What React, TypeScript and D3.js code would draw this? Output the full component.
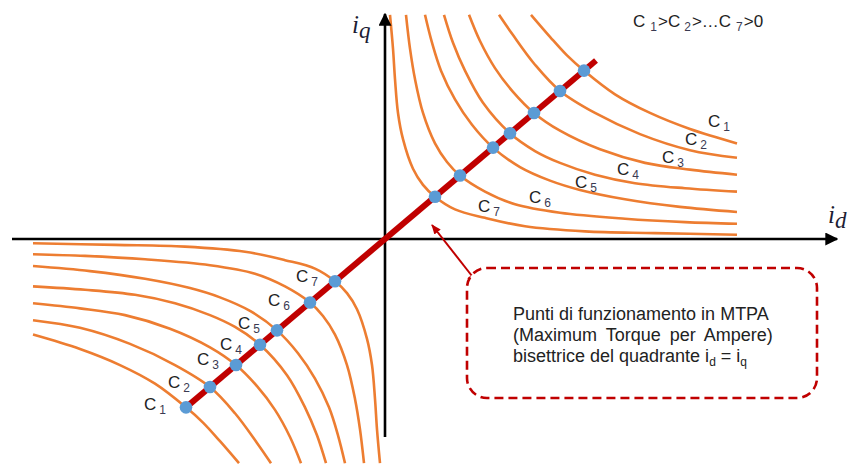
import React from 'react';
import * as d3 from 'd3';

const W = 848;
const H = 464;

// Constant-torque curve names and their MTPA operating points (id = iq)
const curveNames = ['1', '2', '3', '4', '5', '6', '7'];
const mtpaPoints = [1.99, 1.75, 1.49, 1.25, 1.08, 0.75, 0.5];

// Constant-torque curves in the first quadrant, as (id, iq) pairs
const curveC1 = [[1.46, 2.65], [1.65, 2.39], [1.82, 2.17], [1.99, 1.99], [2.3, 1.71], [2.65, 1.49], [3.05, 1.3], [3.52, 1.13]];
const curveC2 = [[1.14, 2.65], [1.28, 2.41], [1.5, 2.06], [1.75, 1.75], [2.1, 1.49], [2.55, 1.24], [3.05, 1.05], [3.52, 0.96]];
const curveC3 = [[0.84, 2.65], [0.95, 2.34], [1.1, 2.02], [1.28, 1.74], [1.49, 1.49], [1.75, 1.28], [2.15, 1.06], [2.6, 0.9], [3.05, 0.82], [3.52, 0.76]];
const curveC4 = [[0.59, 2.65], [0.68, 2.32], [0.8, 1.99], [0.98, 1.61], [1.25, 1.25], [1.5, 1.04], [1.75, 0.9], [2.1, 0.76], [2.5, 0.66], [3.0, 0.6], [3.52, 0.56]];
const curveC5 = [[0.4, 2.65], [0.47, 2.32], [0.56, 1.99], [0.7, 1.65], [0.87, 1.35], [1.08, 1.08], [1.35, 0.85], [1.65, 0.69], [1.95, 0.58], [2.4, 0.47], [2.95, 0.38], [3.52, 0.32]];
const curveC6 = [[0.21, 2.65], [0.25, 2.25], [0.3, 1.89], [0.38, 1.49], [0.5, 1.13], [0.62, 0.91], [0.75, 0.75], [1.0, 0.56], [1.3, 0.41], [1.75, 0.31], [2.4, 0.24], [3.0, 0.2], [3.52, 0.18]];
const curveC7 = [[0.05, 2.65], [0.08, 2.25], [0.1, 1.89], [0.13, 1.49], [0.18, 1.18], [0.28, 0.83], [0.38, 0.64], [0.5, 0.5], [0.7, 0.35], [1.0, 0.25], [1.4, 0.15], [2.0, 0.09], [2.7, 0.07], [3.52, 0.05]];
const torqueCurves = [curveC1, curveC2, curveC3, curveC4, curveC5, curveC6, curveC7];

// Extent of the MTPA bisector
const mtpaLineExtent = [-2.02, 2.11];

// Axis extents
const idAxisExtent = [-3.73, 4.52];
const iqAxisExtent = [-2.34, 2.66];

// Text
const orderText = ['1', '2', '7'];
const noteLines = ['Punti di funzionamento in MTPA', '(Maximum Torque per Ampere)', 'bisettrice del quadrante i'];

// Label anchors (pixel layout) for the curve names
const labelPosQ1 = [[708, 127], [685, 145], [662, 163], [617, 175], [575, 188], [529, 203], [478, 212]];
const labelPosQ3 = [[144, 410], [168, 388], [197, 365], [220, 350], [238, 329], [268, 306], [296, 282]];

const ORANGE = '#ed7d31';
const DARKRED = '#c00000';
const BLUE = '#5b9bd5';
const INK = '#222222';
const SUBINK = '#3a3a52';
const AXISINK = '#1c1c34';

const x = d3.scaleLinear().domain([0, 1]).range([385, 485]);
const y = d3.scaleLinear().domain([0, 1]).range([239, 239 - 84.6]);

const line = d3
  .line<number[]>()
  .x((d) => x(d[0]))
  .y((d) => y(d[1]))
  .curve(d3.curveCatmullRom.alpha(0.5));

function CLabel({ px, py, n }: { px: number; py: number; n: string }) {
  return (
    <text x={px} y={py} fontFamily="Liberation Sans, Arial, sans-serif" fontSize={17} fill={INK}>
      C
      <tspan dx={3} dy={4} fontSize={12} fill={SUBINK}>
        {n}
      </tspan>
    </text>
  );
}

export default function App() {
  const ox = x(0);
  const oy = y(0);
  const xl = x(idAxisExtent[0]);
  const xr = x(idAxisExtent[1]);
  const yb = y(iqAxisExtent[0]);
  const yt = y(iqAxisExtent[1]);

  const boxX = 467;
  const boxY = 268;
  const boxW = 350;
  const boxH = 130;

  return (
    <svg
      width={W}
      height={H}
      viewBox={`0 0 ${W} ${H}`}
      style={{ position: 'absolute', left: 0, top: 0, display: 'block', background: '#fff' }}
    >
      <defs>
        <marker id="axisHead" viewBox="0 0 10 10" refX="9" refY="5" markerWidth="5" markerHeight="5" orient="auto">
          <path d="M0,0 L10,5 L0,10 z" fill="#000" />
        </marker>
        <marker id="noteHead" viewBox="0 0 10 10" refX="9" refY="5" markerWidth="5" markerHeight="5" orient="auto">
          <path d="M0,1 L10,5 L0,9 z" fill={DARKRED} />
        </marker>
      </defs>

      {/* torque curves, first and third quadrant */}
      <g fill="none" stroke={ORANGE} strokeWidth={2.6}>
        {torqueCurves.map((pts, i) => (
          <path key={'q1' + i} d={line(pts) || ''} />
        ))}
        {torqueCurves.map((pts, i) => (
          <path key={'q3' + i} d={line(pts.map((p) => [-p[0], -p[1]])) || ''} />
        ))}
      </g>

      {/* axes */}
      <line x1={xl} y1={oy} x2={xr} y2={oy} stroke="#000" strokeWidth={2.6} markerEnd="url(#axisHead)" />
      <line x1={ox} y1={yb} x2={ox} y2={yt} stroke="#000" strokeWidth={2.6} markerEnd="url(#axisHead)" />

      {/* axis labels */}
      <text x={352} y={33} fontFamily="Liberation Serif, Times New Roman, serif" fontStyle="italic" fontSize={25} fill={AXISINK}>
        i
        <tspan dy={5} fontSize={23}>
          q
        </tspan>
      </text>
      <text x={828} y={223} fontFamily="Liberation Serif, Times New Roman, serif" fontStyle="italic" fontSize={25} fill={AXISINK}>
        i
        <tspan dy={5} fontSize={23}>
          d
        </tspan>
      </text>

      {/* MTPA bisector */}
      <line
        x1={x(mtpaLineExtent[0])}
        y1={y(mtpaLineExtent[0])}
        x2={x(mtpaLineExtent[1])}
        y2={y(mtpaLineExtent[1])}
        stroke={DARKRED}
        strokeWidth={6}
      />

      {/* MTPA operating points */}
      <g fill={BLUE}>
        {mtpaPoints.map((m, i) => (
          <circle key={'p1' + i} cx={x(m)} cy={y(m)} r={6.3} />
        ))}
        {mtpaPoints.map((m, i) => (
          <circle key={'p3' + i} cx={x(-m)} cy={y(-m)} r={6.3} />
        ))}
      </g>

      {/* curve names */}
      {curveNames.map((n, i) => (
        <CLabel key={'l1' + i} px={labelPosQ1[i][0]} py={labelPosQ1[i][1]} n={n} />
      ))}
      {curveNames.map((n, i) => (
        <CLabel key={'l3' + i} px={labelPosQ3[i][0]} py={labelPosQ3[i][1]} n={n} />
      ))}

      {/* ordering of the constants */}
      <text x={633} y={27} fontFamily="Liberation Sans, Arial, sans-serif" fontSize={17} fill={INK}>
        C
        <tspan dx={5} dy={4} fontSize={12} fill={SUBINK}>
          {orderText[0]}
        </tspan>
        <tspan dx={1} dy={-4}>{'>C'}</tspan>
        <tspan dx={4} dy={4} fontSize={12} fill={SUBINK}>
          {orderText[1]}
        </tspan>
        <tspan dx={1} dy={-4}>{'>…C'}</tspan>
        <tspan dx={5} dy={4} fontSize={12} fill={SUBINK}>
          {orderText[2]}
        </tspan>
        <tspan dx={1} dy={-4}>{'>0'}</tspan>
      </text>

      {/* callout */}
      <line x1={472} y1={276} x2={432} y2={225} stroke={DARKRED} strokeWidth={2} markerEnd="url(#noteHead)" />
      <line x1={468} y1={279} x2={476} y2={273} stroke={DARKRED} strokeWidth={2} />
      <rect
        x={boxX}
        y={boxY}
        width={boxW}
        height={boxH}
        rx={20}
        ry={20}
        fill="#fff"
        stroke={DARKRED}
        strokeWidth={2.6}
        strokeDasharray="9 5"
      />
      <g fontFamily="Liberation Sans, Arial, sans-serif" fontSize={18} fill={INK}>
        <text x={513} y={320}>{noteLines[0]}</text>
        <text x={513} y={341} wordSpacing={4}>
          {noteLines[1]}
        </text>
        <text x={513} y={362}>
          {noteLines[2]}
          <tspan dy={4} fontSize={12}>
            d
          </tspan>
          <tspan dy={-4}>{' = i'}</tspan>
          <tspan dy={4} fontSize={12}>
            q
          </tspan>
        </text>
      </g>
    </svg>
  );
}
